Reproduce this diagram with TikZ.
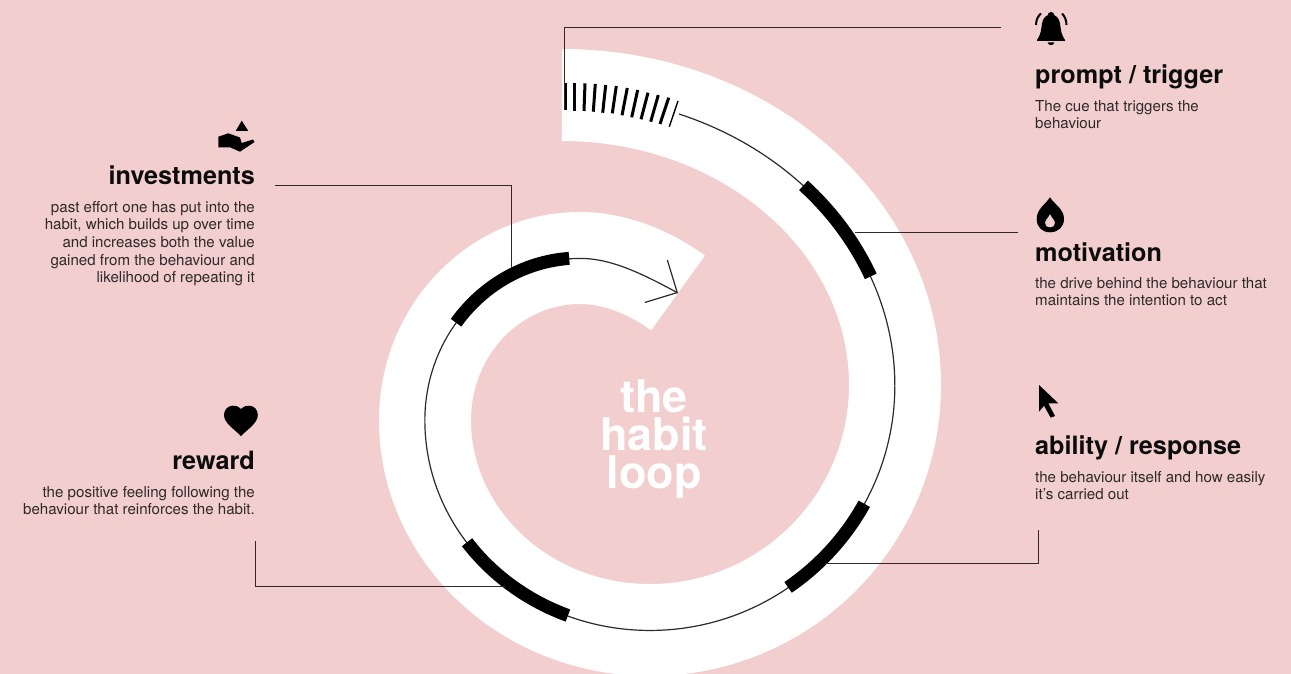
\documentclass[tikz,border=0pt]{standalone}
\usepackage{fontspec}
\setmainfont{TeX Gyre Heros}
\usetikzlibrary{arrows.meta}
\definecolor{loopbg}{HTML}{F2CECE}
\definecolor{loopink}{HTML}{0C0C0C}
\begin{document}
\begin{tikzpicture}[x=1pt, y=-1pt,
    title/.style={inner sep=0pt, text=loopink, font=\fontsize{25.2}{28}\selectfont\bfseries},
    body/.style={inner sep=0pt, text=loopink!85!loopbg, font=\fontsize{15.1}{17.6}\selectfont},
    wire/.style={draw=loopink!85!loopbg, line width=1pt},
    stagebar/.style={draw=black, line width=13pt},
    icon/.style={fill=black, draw=none}]
    \useasboundingbox (0,0) rectangle (1291,674);
    \clip (0,0) rectangle (1291,674);
    \fill[loopbg] (0,0) rectangle (1291,674);

    % Spiral Band
    \draw[white, line width=92pt] (562,95)
        arc[start angle=-90, end angle=0, x radius=333, y radius=290]
        arc[start angle=0, end angle=90, x radius=245, y radius=245]
        arc[start angle=90, end angle=180, x radius=225, y radius=210]
        arc[start angle=180, end angle=270, x radius=155, y radius=162]
        .. controls (613,258) and (648,271) .. (678,293);

    % Start Ticks
    \foreach \xa/\ya/\xb/\yb in {565/83.3/565/110, 574.3/83.3/574.3/110.7, 585/83.3/584/111, 595.3/84/593.3/111.7, 605.7/85/602.7/112.7, 616.3/86/612.3/113.3, 627.3/88/622/115.3, 637.7/90/631.7/117.3, 648/92.7/641/119.3, 658.3/95/650.7/121.7, 668.7/97.7/660/124}
        \draw[black, line width=3pt] (\xa,\ya) -- (\xb,\yb);
    \draw[black, line width=1.4pt] (678,101) -- (669.3,126.7);

    % Loop Line
    \draw[wire, line width=1.2pt, -{Straight Barb[length=24pt, width=48pt, line width=1.2pt]}] (679,114)
        arc[start angle=-69.4, end angle=0, x radius=333, y radius=290]
        arc[start angle=0, end angle=90, x radius=245, y radius=245]
        arc[start angle=90, end angle=180, x radius=225, y radius=210]
        arc[start angle=180, end angle=270, x radius=155, y radius=162]
        .. controls (613,258) and (648,277) .. (678,293);

    % Stage Bars
    \draw[stagebar, shift={(562,385)}] (-43.5:333 and 290) arc[start angle=-43.5, end angle=-22, x radius=333, y radius=290];
    \draw[stagebar, shift={(650,385)}] (29:245 and 245) arc[start angle=29, end angle=55.7, x radius=245, y radius=245];
    \draw[stagebar, shift={(650,420)}] (111.4:225 and 210) arc[start angle=111.4, end angle=144.4, x radius=225, y radius=210];
    \draw[stagebar, shift={(580,420)}] (216.9:155 and 162) arc[start angle=216.9, end angle=266, x radius=155, y radius=162];

    % Labels
    \node[title, anchor=base west] (promptTitle) at (1035,84) {prompt / trigger};
    \node[body, anchor=north west, align=left] (promptBody) at (1035,100) {The cue that triggers the\\behaviour};
    \node[title, anchor=base west] (motivationTitle) at (1035,261) {motivation};
    \node[body, anchor=north west, align=left] (motivationBody) at (1035,277) {the drive behind the behaviour that\\maintains the intention to act};
    \node[title, anchor=base west] (abilityTitle) at (1035,454) {ability / response};
    \node[body, anchor=north west, align=left] (abilityBody) at (1035,471) {the behaviour itself and how easily\\it’s carried out};
    \node[title, anchor=base east] (rewardTitle) at (255,469) {reward};
    \node[body, anchor=north east, align=right] (rewardBody) at (255,486) {the positive feeling following the\\behaviour that reinforces the habit.};
    \node[title, anchor=base east] (investTitle) at (255,185) {investments};
    \node[body, anchor=north east, align=right] (investBody) at (255,201) {past effort one has put into the\\habit, which builds up over time\\and increases both the value\\gained from the behaviour and\\likelihood of repeating it};

    % Centre Text
    \node[text=white, align=center, inner sep=0pt, font=\fontsize{45}{38}\selectfont\bfseries] (loopTitle) at (654,439) {the\\habit\\loop};

    % Connectors
    \coordinate (promptEnd) at (1001,28);
    \coordinate (promptBar) at (564,110);
    \coordinate (motivationEnd) at (1018,232);
    \coordinate (motivationBar) at (855,232);
    \coordinate (abilityEnd) at (1038,530);
    \coordinate (abilityBar) at (825,563);
    \coordinate (rewardEnd) at (255,541);
    \coordinate (rewardBar) at (505,586);
    \coordinate (investEnd) at (275,186);
    \coordinate (investBar) at (511,268);
    \draw[wire] (promptEnd) -| (promptBar);
    \draw[wire] (motivationEnd) -- (motivationBar);
    \draw[wire] (abilityEnd) |- (abilityBar);
    \draw[wire] (rewardEnd) |- (rewardBar);
    \draw[wire] (investEnd) -| (investBar);

    % Bell
    \fill[icon] (1051,12) .. controls (1054,12) and (1054,14) .. (1054,15) .. controls (1059,17) and (1060,22) .. (1060.5,27) .. controls (1061,33) and (1063,37) .. (1065,40) -- (1065,41) -- (1037,41) -- (1037,40) .. controls (1039,37) and (1041,33) .. (1041.5,27) .. controls (1042,22) and (1043,17) .. (1048,15) .. controls (1048,14) and (1048,12) .. (1051,12) -- cycle;
    \fill[icon] (1047.7,42.5) -- (1054.3,42.5) .. controls (1054,46) and (1048,46) .. (1047.7,42.5) -- cycle;
    \draw[black, line width=2pt] (1036,25) .. controls (1036,20) and (1038,16) .. (1041,13.5);
    \draw[black, line width=2pt] (1066.5,25) .. controls (1066.5,20) and (1064.5,16) .. (1062,13.5);

    % Hand
    \fill[icon] (241.7,120.7) -- (248.3,131) -- (235.7,131) -- cycle;
    \fill[icon] (218.3,136.7) -- (228.3,133.3) -- (240,137.5) -- (241.7,143) -- (253,139.5) -- (254.5,142) -- (240,151.7) -- (230,147.3) -- (218.3,147.3) -- cycle;

    % Flame
    \fill[icon, even odd rule] (1050,197.3) .. controls (1055,205) and (1064,209) .. (1064,219) .. controls (1064,227) and (1058,232.3) .. (1050,232.3) .. controls (1042,232.3) and (1036.7,227) .. (1036.7,219) .. controls (1036.7,209) and (1045,205) .. (1050,197.3) -- cycle
        (1050,214) .. controls (1052,218) and (1055,220) .. (1055,223) .. controls (1055,226) and (1053,227.5) .. (1050,227.5) .. controls (1047,227.5) and (1045,226) .. (1045,223) .. controls (1045,220) and (1048,218) .. (1050,214) -- cycle;

    % Cursor
    \fill[icon] (1039,385) -- (1058.3,403.3) -- (1048.3,403.3) -- (1055,416) -- (1050.7,417.7) -- (1044,405.7) -- (1039,411.7) -- cycle;

    % Heart
    \fill[icon] (241,409) .. controls (244,406) and (247,405.5) .. (249.5,405.7) .. controls (254.5,406) and (257.8,410) .. (257.8,415) .. controls (257.8,423) and (248,429) .. (241,436) .. controls (234,429) and (224,423) .. (224,415) .. controls (224,410) and (227.5,406) .. (232.5,405.7) .. controls (235,405.5) and (238,406) .. (241,409) -- cycle;
\end{tikzpicture}
\end{document}
